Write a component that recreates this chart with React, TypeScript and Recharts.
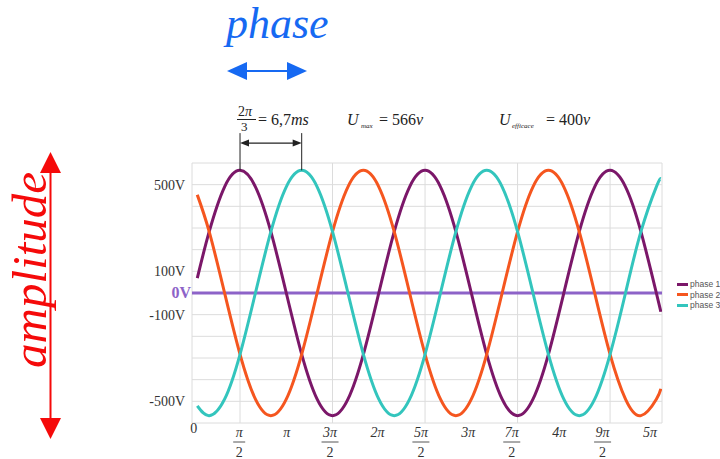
import { LineChart, Line, XAxis, YAxis, CartesianGrid, ReferenceLine } from "recharts";

// angle in radians (ωt) and the three phase voltages in volts
const angle = [
  0.12, 0.524, 1.047, 1.571, 2.094, 2.618, 3.142, 3.665, 4.189, 4.712, 5.236, 5.76, 6.283, 6.807, 7.33, 7.854,
  8.378, 8.901, 9.425, 9.948, 10.472, 10.996, 11.519, 12.043, 12.566, 13.09, 13.614, 14.137, 14.661, 15.184,
  15.708, 15.86,
];
const phase1 = [
  69, 283, 490, 566, 490, 283, 0, -283, -490, -566, -490, -283, 0, 283, 490, 566, 490, 283, 0, -283, -490, -566,
  -490, -283, 0, 283, 490, 566, 490, 283, 0, -86,
];
const phase2 = [
  453, 283, 0, -283, -490, -566, -490, -283, 0, 283, 490, 566, 490, 283, 0, -283, -490, -566, -490, -283, 0, 283,
  490, 566, 490, 283, 0, -283, -490, -566, -490, -442,
];
const phase3 = [
  -521, -566, -490, -283, 0, 283, 490, 566, 490, 283, 0, -283, -490, -566, -490, -283, 0, 283, 490, 566, 490, 283,
  0, -283, -490, -566, -490, -283, 0, 283, 490, 528,
];

const xTicks = [0, 1.571, 3.142, 4.712, 6.283, 7.854, 9.425, 10.996, 12.566, 14.137, 15.708];
const xTickLabels = ["0", "π/2", "π", "3π/2", "2π", "5π/2", "3π", "7π/2", "4π", "9π/2", "5π"];
const xGrid = [-0.06, 1.571, 4.712, 7.854, 10.996, 14.137, 15.9];
const yTicks = [-600, -500, -400, -300, -200, -100, 0, 100, 200, 300, 400, 500, 600];
const yTickLabels: Record<number, string> = { 500: "500V", 100: "100V", 0: "0V", [-100]: "-100V", [-500]: "-500V" };

const series = [
  { key: "p1", name: "phase 1", color: "#7b1769" },
  { key: "p2", name: "phase 2", color: "#f5561f" },
  { key: "p3", name: "phase 3", color: "#33c5bd" },
];

const rows = angle.map((a, i) => ({ angle: a, p1: phase1[i], p2: phase2[i], p3: phase3[i] }));

const serif = "'Liberation Serif', 'Times New Roman', serif";

function AngleTick(props: any) {
  const { y, payload } = props;
  // labels sit slightly tighter than the grid spacing
  const x = props.x - (props.x - 194) * 0.018;
  const label = xTickLabels[xTicks.indexOf(payload.value)] ?? "";
  if (label.includes("/")) {
    const [num, den] = label.split("/");
    const w = num.length > 1 ? 17 : 12;
    return (
      <g fontFamily={serif} fontSize={14} fill="#333">
        <text x={x} y={y + 14} textAnchor="middle" fontStyle="italic">{num}</text>
        <line x1={x - w / 2} x2={x + w / 2} y1={y + 19} y2={y + 19} stroke="#555" strokeWidth={1} />
        <text x={x} y={y + 34} textAnchor="middle">{den}</text>
      </g>
    );
  }
  return (
    <text x={x + (label === "0" ? 0 : 2)} y={y + (label === "0" ? 10 : 14)} textAnchor="middle"
      fontFamily={serif} fontSize={14} fontStyle={label === "0" ? "normal" : "italic"} fill="#333">
      {label}
    </text>
  );
}

function VoltTick(props: any) {
  const { x, y, payload } = props;
  const label = yTickLabels[payload.value];
  if (!label) return <g />;
  const zero = payload.value === 0;
  return (
    <text x={zero ? x - 1 : x - 7} y={y + 5} textAnchor="end" fontFamily={serif}
      fontSize={zero ? 16 : 14} fontWeight={zero ? "bold" : "normal"} fill={zero ? "#8d63c8" : "#333"}>
      {label}
    </text>
  );
}

// horizontal dimension arrow between the two peaks
function DimArrow(props: any) {
  const { x1, x2, y1 } = props;
  return (
    <g>
      <line x1={x1 + 6} x2={x2 - 6} y1={y1} y2={y1} stroke="#222" strokeWidth={1.2} />
      <polygon points={`${x1},${y1} ${x1 + 9},${y1 - 3.5} ${x1 + 9},${y1 + 3.5}`} fill="#222" />
      <polygon points={`${x2},${y1} ${x2 - 9},${y1 - 3.5} ${x2 - 9},${y1 + 3.5}`} fill="#222" />
    </g>
  );
}

function Legend() {
  return (
    <div style={{ position: "absolute", left: 677, top: 279, fontFamily: "'Liberation Sans', Arial, sans-serif", fontSize: 8.5, color: "#555", lineHeight: "10.5px", whiteSpace: "nowrap" }}>
      {series.map((s) => (
        <div key={s.key} style={{ display: "flex", alignItems: "center" }}>
          <span style={{ display: "inline-block", width: 11, height: 3, background: s.color, marginRight: 2 }} />
          {s.name}
        </div>
      ))}
    </div>
  );
}

function Annotations() {
  const blue = "#1669f2";
  const red = "#f50a0a";
  return (
    <svg width={720} height={459} style={{ position: "absolute", left: 0, top: 0, pointerEvents: "none" }}>
      <text x={226} y={38} fontFamily={serif} fontStyle="italic" fontSize={44} fill={blue}>phase</text>
      <line x1={240} x2={294} y1={71} y2={71} stroke={blue} strokeWidth={2} />
      <polygon points="227,71 247,62 247,80" fill={blue} />
      <polygon points="307,71 287,62 287,80" fill={blue} />

      <text transform="translate(46,270) rotate(-90)" textAnchor="middle" fontFamily={serif} fontStyle="italic" fontSize={49} fill={red}>
        amplitude
      </text>
      <line x1={50.5} x2={50.5} y1={165} y2={428} stroke={red} strokeWidth={2} />
      <polygon points="50.5,152 40,173 61,173" fill={red} />
      <polygon points="50.5,439 40,418 61,418" fill={red} />

      <g fontFamily={serif} fill="#222">
        <text x={238} y={116} fontSize={14}>2<tspan fontStyle="italic">π</tspan></text>
        <line x1={237} x2={256} y1={119.5} y2={119.5} stroke="#222" strokeWidth={1} />
        <text x={241} y={131} fontSize={13}>3</text>
        <text x={258} y={125} fontSize={16}>= 6,7<tspan fontStyle="italic">ms</tspan></text>

        <text x={347} y={125} fontSize={16} fontStyle="italic">U</text>
        <text x={361} y={128} fontSize={7} fontStyle="italic">max</text>
        <text x={379} y={125} fontSize={16}>= 566<tspan fontStyle="italic">v</tspan></text>

        <text x={499} y={125} fontSize={16} fontStyle="italic">U</text>
        <text x={512} y={128} fontSize={7} fontStyle="italic">efficace</text>
        <text x={546} y={125} fontSize={16}>= 400<tspan fontStyle="italic">v</tspan></text>
      </g>
    </svg>
  );
}

export default function App() {
  return (
    <div style={{ position: "relative", width: 720, height: 459, background: "#fff" }}>
      <style>{"body{margin:0}"}</style>
      <LineChart width={720} height={459} data={rows} margin={{ top: 163, right: 58, bottom: 0, left: 0 }}>
        <CartesianGrid stroke="#dcdcdc" strokeWidth={1} verticalValues={xGrid} horizontalValues={yTicks} />
        <XAxis type="number" dataKey="angle" domain={[-0.06, 15.9]} ticks={xTicks} interval={0} height={36}
          tick={<AngleTick />} tickLine={false} axisLine={false} tickSize={0} tickMargin={0} allowDataOverflow />
        <YAxis type="number" domain={[-600, 600]} ticks={yTicks} interval={0} width={192}
          tick={<VoltTick />} tickLine={false} axisLine={false} tickSize={0} tickMargin={0} />
        <ReferenceLine y={0} stroke="#8d63c8" strokeWidth={3} />
        {series.map((s) => (
          <Line key={s.key} type="natural" dataKey={s.key} name={s.name} stroke={s.color} strokeWidth={3}
            dot={false} isAnimationActive={false} />
        ))}
        <ReferenceLine segment={[{ x: 1.571, y: 566 }, { x: 1.571, y: 738 }]} stroke="#222" strokeWidth={1} ifOverflow="visible" />
        <ReferenceLine segment={[{ x: 3.665, y: 566 }, { x: 3.665, y: 738 }]} stroke="#222" strokeWidth={1} ifOverflow="visible" />
        <ReferenceLine segment={[{ x: 1.571, y: 692 }, { x: 3.665, y: 692 }]} ifOverflow="visible" shape={<DimArrow />} />
      </LineChart>
      <Annotations />
      <Legend />
    </div>
  );
}
